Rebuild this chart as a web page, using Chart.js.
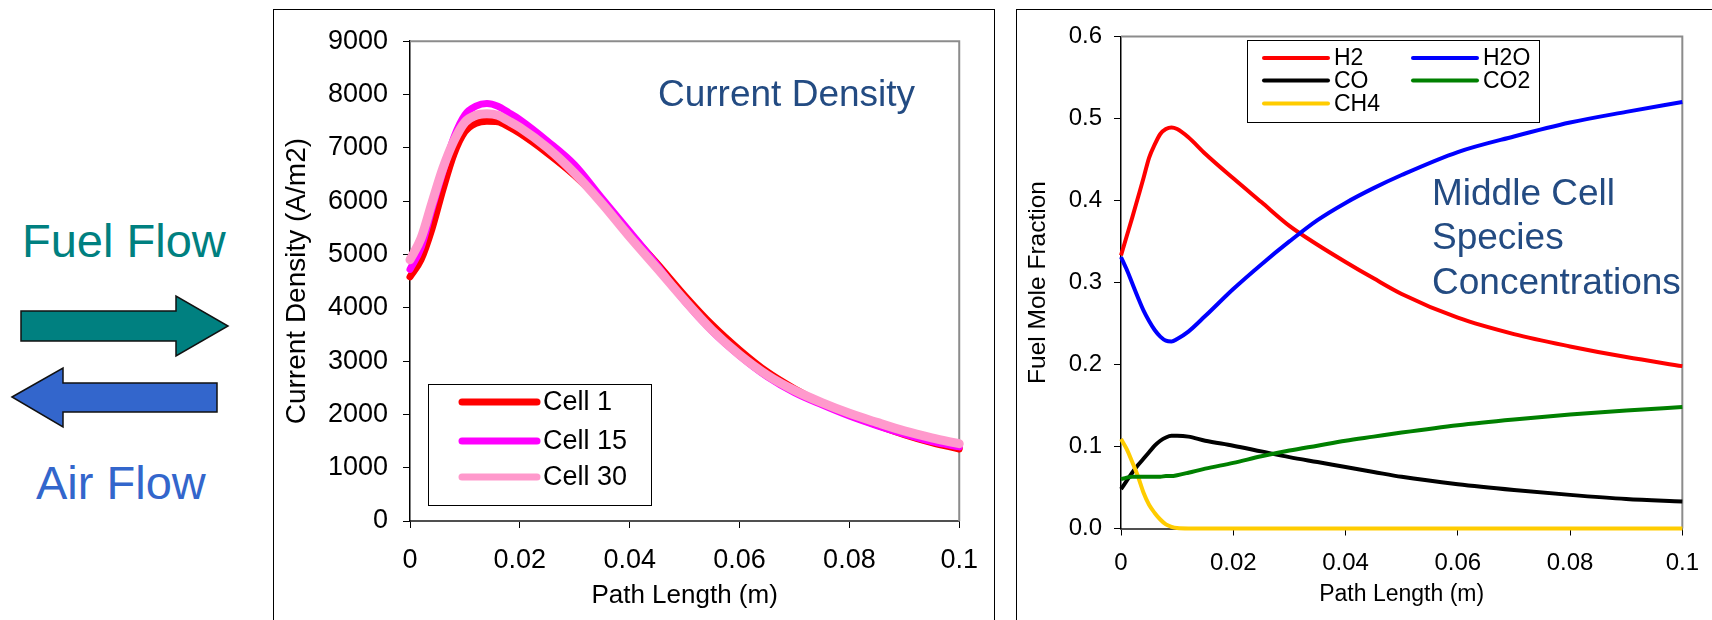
<!DOCTYPE html>
<html>
<head>
<meta charset="utf-8">
<script src="https://cdn.jsdelivr.net/npm/chart.js@4"></script>
<style>
  body { margin: 0; width: 1712px; height: 620px; overflow: hidden; background: #fff; position: relative; }
  .panel { position: absolute; border: 1px solid #000; background: #fff; }
  #left-panel { left: 273px; top: 9px; width: 720px; height: 640px; }
  #right-panel { left: 1016px; top: 9px; width: 760px; height: 640px; }
  canvas { display: block; }
  #flows { position: absolute; left: 0; top: 0; }
</style>
</head>
<body>
<svg id="flows" width="270" height="620">
  <text x="22" y="257" font-family="Liberation Sans, Arial" font-size="47" fill="#008080">Fuel Flow</text>
  <polygon points="21,311 176,311 176,296 228,326 176,356 176,341 21,341" fill="#008080" stroke="#111" stroke-width="1.5"/>
  <polygon points="12,397 63,368 63,383 217,383 217,412 63,412 63,427" fill="#3366CC" stroke="#111" stroke-width="1.5"/>
  <text x="36" y="499" font-family="Liberation Sans, Arial" font-size="47" fill="#3366CC">Air Flow</text>
</svg>
<div class="panel" id="left-panel"><canvas class="current-chart" width="720" height="610"></canvas></div>
<div class="panel" id="right-panel"><canvas class="species-chart" width="695" height="610"></canvas></div>
<script>
// current density, three cells
const pathLength = [0, 0.002, 0.004, 0.006, 0.008, 0.010, 0.012, 0.014, 0.016, 0.018, 0.020, 0.025, 0.030, 0.035, 0.040, 0.045, 0.050, 0.055, 0.060, 0.065, 0.070, 0.075, 0.080, 0.085, 0.090, 0.095, 0.100];
const cell1 = [4580, 4900, 5480, 6220, 6880, 7300, 7460, 7500, 7490, 7390, 7270, 6900, 6480, 5980, 5400, 4830, 4230, 3680, 3210, 2800, 2480, 2210, 1990, 1800, 1620, 1470, 1350];
const cell15 = [4720, 5120, 5850, 6550, 7200, 7620, 7780, 7830, 7780, 7660, 7530, 7130, 6680, 6050, 5430, 4800, 4120, 3560, 3100, 2710, 2410, 2180, 1970, 1790, 1630, 1490, 1390];
const cell30 = [4900, 5300, 5970, 6620, 7130, 7480, 7610, 7640, 7610, 7500, 7380, 7000, 6520, 5950, 5330, 4740, 4140, 3580, 3120, 2740, 2450, 2220, 2020, 1850, 1690, 1560, 1450];

// middle cell species
const fuelPath = [0, 0.001, 0.002, 0.003, 0.004, 0.005, 0.006, 0.007, 0.008, 0.009, 0.010, 0.012, 0.015, 0.020, 0.025, 0.030, 0.035, 0.040, 0.045, 0.050, 0.060, 0.070, 0.080, 0.090, 0.100];
const h2 = [0.333, 0.356, 0.379, 0.403, 0.427, 0.452, 0.468, 0.481, 0.487, 0.489, 0.487, 0.477, 0.457, 0.427, 0.398, 0.369, 0.346, 0.325, 0.305, 0.286, 0.257, 0.237, 0.222, 0.209, 0.198];
const h2o = [0.331, 0.316, 0.299, 0.282, 0.266, 0.253, 0.242, 0.234, 0.229, 0.228, 0.231, 0.240, 0.259, 0.292, 0.322, 0.350, 0.376, 0.397, 0.415, 0.431, 0.459, 0.478, 0.495, 0.508, 0.520];
const co = [0.048, 0.058, 0.068, 0.077, 0.085, 0.093, 0.101, 0.107, 0.111, 0.113, 0.113, 0.112, 0.107, 0.101, 0.094, 0.087, 0.081, 0.075, 0.069, 0.063, 0.054, 0.047, 0.041, 0.036, 0.033];
const co2 = [0.060, 0.062, 0.063, 0.063, 0.063, 0.063, 0.063, 0.063, 0.064, 0.064, 0.065, 0.068, 0.073, 0.080, 0.088, 0.095, 0.101, 0.107, 0.112, 0.117, 0.126, 0.133, 0.139, 0.144, 0.148];
const ch4 = [0.109, 0.097, 0.081, 0.064, 0.044, 0.029, 0.019, 0.011, 0.005, 0.002, 0.0005, 0, 0, 0, 0, 0, 0, 0, 0, 0, 0, 0, 0, 0, 0];

const xTicks = [0, 0.02, 0.04, 0.06, 0.08, 0.1];

const FONT = "'Liberation Sans', Arial, sans-serif";
Chart.defaults.font.family = FONT;
Chart.defaults.color = "#000";

const pairs = (xs, ys) => xs.map((x, i) => ({ x: x, y: ys[i] }));

// gray top and right edge of the plot area
const plotFrame = {
  id: "plotFrame",
  beforeDatasetsDraw(chart) {
    const { top, right, bottom, left } = chart.chartArea;
    const c = chart.ctx;
    c.save();
    c.strokeStyle = "#8c8c8c";
    c.lineWidth = 2;
    c.beginPath();
    c.moveTo(left, top);
    c.lineTo(right, top);
    c.lineTo(right, bottom);
    c.stroke();
    c.restore();
  },
};

// boxed legend drawn where the original has it
function boxLegend(cfg) {
  return {
    id: "boxLegend",
    afterDatasetsDraw(chart) {
      const c = chart.ctx;
      c.save();
      c.fillStyle = "#fff";
      c.fillRect(cfg.box[0], cfg.box[1], cfg.box[2], cfg.box[3]);
      c.strokeStyle = "#000";
      c.lineWidth = 1;
      c.strokeRect(cfg.box[0] + 0.5, cfg.box[1] + 0.5, cfg.box[2], cfg.box[3]);
      c.font = cfg.fontSize + "px " + FONT;
      c.textBaseline = "middle";
      c.lineCap = "round";
      chart.data.datasets.forEach((ds, i) => {
        const [x, y] = cfg.items[i];
        c.strokeStyle = ds.borderColor;
        c.lineWidth = cfg.lineWidth;
        c.beginPath();
        c.moveTo(x, y);
        c.lineTo(x + cfg.lineLength, y);
        c.stroke();
        c.fillStyle = "#000";
        c.fillText(ds.label, x + cfg.lineLength + cfg.gap, y + 1);
      });
      c.restore();
    },
  };
}

function notes(lines) {
  return {
    id: "notes",
    afterDraw(chart) {
      const c = chart.ctx;
      c.save();
      c.fillStyle = "#234B82";
      c.font = "37px " + FONT;
      c.textBaseline = "alphabetic";
      lines.forEach(([t, x, y]) => c.fillText(t, x, y));
      c.restore();
    },
  };
}

function xScale(size, pad, titlePad, height) {
  return {
    type: "linear",
    min: 0,
    max: 0.1,
    afterBuildTicks: (s) => { s.ticks = xTicks.map((v) => ({ value: v })); },
    afterFit: (s) => { s.height = height; },
    ticks: { font: { size: size }, padding: pad, maxRotation: 0, callback: (v) => String(+v.toFixed(2)) },
    grid: { drawOnChartArea: false, drawTicks: true, tickLength: 7, color: "#000", lineWidth: 1 },
    border: { display: true, color: "#505050", width: 2 },
    title: { display: true, text: "Path Length (m)", font: { size: size - 1 }, padding: { top: 0, bottom: titlePad } },
  };
}

document.addEventListener("DOMContentLoaded", () => {
  const ctx1 = document.querySelector(".current-chart").getContext("2d");

  new Chart(ctx1, {
    type: "line",
    data: {
      datasets: [
        { label: "Cell 1", data: pairs(pathLength, cell1), borderColor: "#FF0000", borderWidth: 7, order: 2 },
        { label: "Cell 15", data: pairs(pathLength, cell15), borderColor: "#FF00FF", borderWidth: 7, order: 1 },
        { label: "Cell 30", data: pairs(pathLength, cell30), borderColor: "#FF99CC", borderWidth: 9, order: 0 },
      ],
    },
    options: {
      responsive: false,
      animation: false,
      events: [],
      layout: { padding: { left: 0, top: 25, right: 31, bottom: 0 } },
      elements: {
        point: { radius: 0 },
        line: { cubicInterpolationMode: "monotone", borderJoinStyle: "round", borderCapStyle: "round" },
      },
      datasets: { line: { clip: false } },
      plugins: { legend: { display: false }, tooltip: { enabled: false } },
      scales: {
        x: xScale(27, 16, 9, 99),
        y: {
          min: 0,
          max: 9000,
          afterFit: (s) => { s.width = 136; },
          ticks: { stepSize: 1000, font: { size: 27 }, padding: 15, callback: (v) => String(v) },
          grid: { drawOnChartArea: false, drawTicks: true, tickLength: 7, color: "#000", lineWidth: 1 },
          border: { display: true, color: "#000", width: 1.5 },
          title: { display: true, text: "Current Density (A/m2)", font: { size: 28 }, padding: { top: 6, bottom: 0 } },
        },
      },
    },
    plugins: [
      plotFrame,
      boxLegend({ box: [154, 374, 223, 121], items: [[188, 392], [188, 431], [188, 467]], lineLength: 75, lineWidth: 7, gap: 6, fontSize: 27 }),
      notes([["Current Density", 384, 96]]),
    ],
  });

  const ctx2 = document.querySelector(".species-chart").getContext("2d");
  const species = [
    ["H2", h2, "#FF0000"],
    ["CO", co, "#000000"],
    ["CH4", ch4, "#FFCC00"],
    ["H2O", h2o, "#0000FF"],
    ["CO2", co2, "#008000"],
  ];

  new Chart(ctx2, {
    type: "line",
    data: {
      datasets: species.map(([name, ys, color], i) => ({
        label: name,
        data: pairs(fuelPath, ys),
        borderColor: color,
        borderWidth: 4,
        order: 10 - i,
      })),
    },
    options: {
      responsive: false,
      animation: false,
      events: [],
      layout: { padding: { left: 0, top: 20.5, right: 19.5, bottom: 0 } },
      elements: {
        point: { radius: 0 },
        line: { cubicInterpolationMode: "monotone", borderJoinStyle: "round" },
      },
      datasets: { line: { clip: false } },
      plugins: { legend: { display: false }, tooltip: { enabled: false } },
      scales: {
        x: xScale(24, 13, 12, 91.5),
        y: {
          min: 0,
          max: 0.6,
          afterFit: (s) => { s.width = 104; },
          ticks: { stepSize: 0.1, font: { size: 24 }, padding: 12, callback: (v) => v.toFixed(1) },
          grid: { drawOnChartArea: false, drawTicks: true, tickLength: 7, color: "#000", lineWidth: 1 },
          border: { display: true, color: "#000", width: 1.5 },
          title: { display: true, text: "Fuel Mole Fraction", font: { size: 24.5 }, padding: { top: 7, bottom: 0 } },
        },
      },
    },
    plugins: [
      plotFrame,
      boxLegend({ box: [230, 30, 292, 82], items: [[247, 48], [247, 70.5], [247, 93.5], [396, 48], [396, 70.5]], lineLength: 64, lineWidth: 4, gap: 6, fontSize: 23 }),
      notes([["Middle Cell", 415, 195], ["Species", 415, 239], ["Concentrations", 415, 284]]),
    ],
  });
});
</script>
</body>
</html>
